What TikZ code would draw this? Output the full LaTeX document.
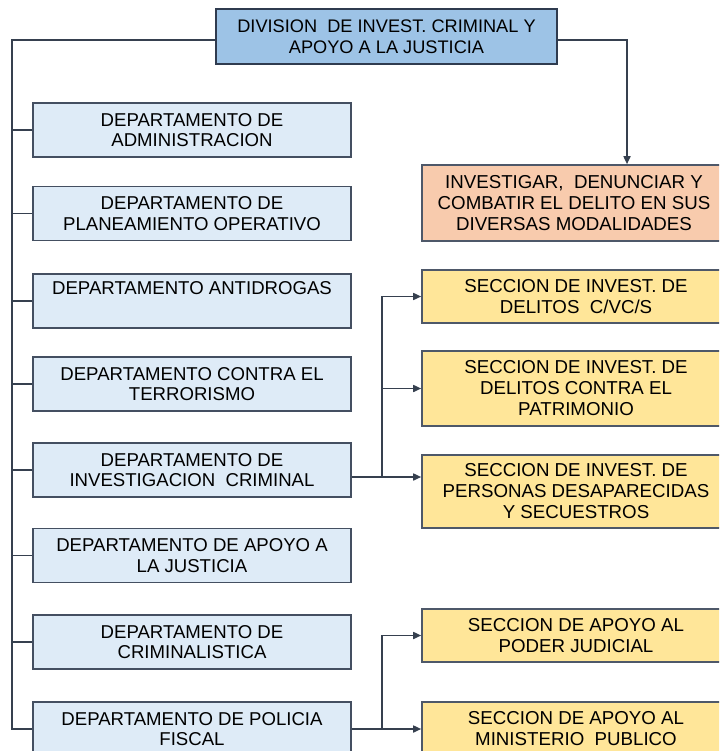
\documentclass[tikz,border=0pt]{standalone}
\usepackage{fontspec}
\setmainfont{Liberation Sans}
\usetikzlibrary{arrows.meta}

\definecolor{divfill}{HTML}{9DC3E6}
\definecolor{depfill}{HTML}{DEEBF7}
\definecolor{secfill}{HTML}{FFE699}
\definecolor{objfill}{HTML}{F8CBAD}
\definecolor{boxline}{HTML}{2F3B4F}
\definecolor{linecol}{HTML}{36404F}

\tikzset{
  divbox/.style={draw=boxline, line width=2.4pt, fill=divfill, minimum width=341pt,
    minimum height=55pt, inner sep=0pt, align=center, font=\fontsize{18.2}{21.5}\selectfont},
  depbox/.style={draw=boxline!90, line width=1.8pt, fill=depfill, minimum width=318pt,
    minimum height=54pt, inner sep=0pt, align=center, font=\fontsize{18.6}{20.7}\selectfont},
  secbox/.style={draw=boxline!85, line width=1.6pt, fill=secfill, minimum width=308pt,
    inner sep=0pt, align=center, font=\fontsize{18.7}{21}\selectfont},
  objbox/.style={secbox, fill=objfill, minimum width=304pt, minimum height=76pt},
  line/.style={draw=linecol, line width=1.6pt},
  arr/.style={line, -{Triangle[length=8pt,width=7pt]}}
}

\begin{document}
\begin{tikzpicture}[x=1pt,y=-1pt]
\useasboundingbox (0,0) rectangle (719,751);
\clip (0,0) rectangle (719,751);

% division
\node[divbox] (div) at (386.5,36.5) {DIVISION\ \ DE INVEST. CRIMINAL Y\\APOYO A LA JUSTICIA};

% departamentos
\node[depbox] (d1) at (192,130) {DEPARTAMENTO DE\\ADMINISTRACION};
\node[depbox] (d2) at (192,213.5) {DEPARTAMENTO DE\\PLANEAMIENTO OPERATIVO};
\node[depbox] (d3) at (192,301) {DEPARTAMENTO ANTIDROGAS\\ \strut};
\node[depbox] (d4) at (192,384) {DEPARTAMENTO CONTRA EL\\TERRORISMO};
\node[depbox] (d5) at (192,470) {DEPARTAMENTO DE\\INVESTIGACION\ \ CRIMINAL};
\node[depbox] (d6) at (192,555.5) {DEPARTAMENTO DE APOYO A\\LA JUSTICIA};
\node[depbox] (d7) at (192,642) {DEPARTAMENTO DE\\CRIMINALISTICA};
\node[depbox] (d8) at (192,729) {DEPARTAMENTO DE POLICIA\\FISCAL};

% objetivo
\node[objbox] (obj) at (574,203) {INVESTIGAR,\ \ DENUNCIAR Y\\COMBATIR EL DELITO EN SUS\\DIVERSAS MODALIDADES};

% secciones
\node[secbox, minimum height=53pt] (s1) at (576,296.5) {SECCION DE INVEST. DE\\DELITOS\ \ C/VC/S};
\node[secbox, minimum height=75pt] (s2) at (576,388.5) {SECCION DE INVEST. DE\\DELITOS CONTRA EL\\PATRIMONIO};
\node[secbox, minimum height=73pt] (s3) at (576,491.5) {SECCION DE INVEST. DE\\PERSONAS DESAPARECIDAS\\Y SECUESTROS};
\node[secbox, minimum height=53pt] (s4) at (576,635.5) {SECCION DE APOYO AL\\PODER JUDICIAL};
\node[secbox, minimum height=54pt] (s5) at (576,729) {SECCION DE APOYO AL\\MINISTERIO\ \ PUBLICO};

% tronco izquierdo
\coordinate (tl) at (12,40);
\draw[line] (tl -| div.west) -- (tl) -- (tl |- d8.west) -- (d8.west);
\draw[line] (d1.west) -- (d1.west -| tl);
\draw[line] (d2.west) -- (d2.west -| tl);
\draw[line] (d3.west) -- (d3.west -| tl);
\draw[line] (d4.west) -- (d4.west -| tl);
\draw[line] (d5.west) -- (d5.west -| tl);
\draw[line] (d6.west) -- (d6.west -| tl);
\draw[line] (d7.west) -- (d7.west -| tl);

% hacia el objetivo
\coordinate (tr) at (627,40);
\draw[arr] (tr -| div.east) -- (tr) -- (tr |- obj.north);

% secciones de investigacion criminal
\coordinate (b1) at (382,477);
\draw[line] (b1 -| d5.east) -- (b1);
\draw[arr] (b1) -- (b1 -| s3.west);
\draw[arr] (b1) |- (s2.west);
\draw[arr] (b1) |- (s1.west);

% secciones de policia fiscal
\coordinate (b2) at (382,729);
\draw[line] (d8.east) -- (b2);
\draw[arr] (b2) -- (s5.west);
\draw[arr] (b2) |- (s4.west);
\end{tikzpicture}
\end{document}
